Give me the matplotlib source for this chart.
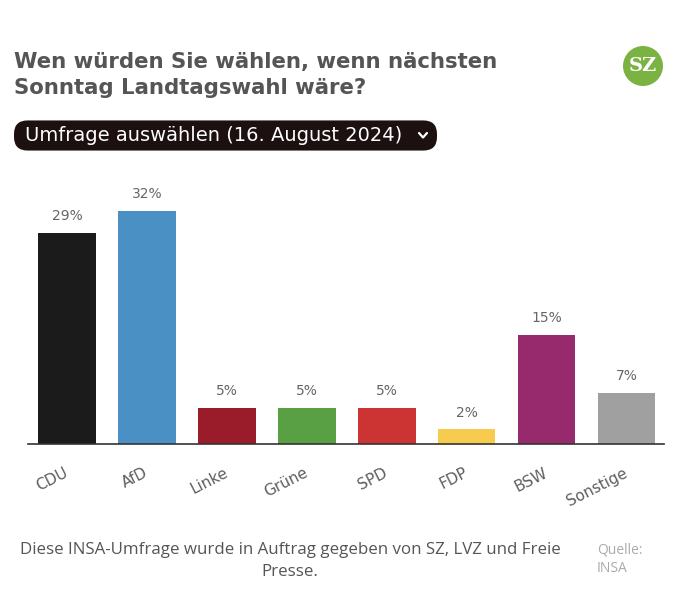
import matplotlib
matplotlib.use("Agg")
import matplotlib.pyplot as plt
from matplotlib.patches import FancyBboxPatch, Ellipse
import numpy as np

# poll values (INSA, 16. August 2024)
parties = ['CDU', 'AfD', 'Linke', 'Grüne', 'SPD', 'FDP', 'BSW', 'Sonstige']
values = [29, 32, 5, 5, 5, 2, 15, 7]
colors = ['#1b1b1b', '#4a90c4', '#9a1c2b', '#58a043', '#cc3333', '#f7cb4d', '#962a6c', '#a0a0a0']

title = "Wen würden Sie wählen, wenn nächsten\nSonntag Landtagswahl wäre?"
dropdown = "Umfrage auswählen (16. August 2024)"
footer = "Diese INSA-Umfrage wurde in Auftrag gegeben von SZ, LVZ und Freie\nPresse."
source = "Quelle:\nINSA"

W, H = 680, 602
fig = plt.figure(figsize=(W / 100, H / 100), dpi=100)
fig.patch.set_facecolor('white')


def fx(px):
    return px / W


def fy(py):
    return 1 - py / H


ax = fig.add_axes([fx(28), fy(444), fx(664) - fx(28), fy(211) - fy(444)])
x = np.arange(len(parties))
bars = ax.bar(x, values, width=0.72, color=colors, zorder=2)
ax.set_xlim(-0.49, 7.47)
ax.set_ylim(0, 32)
for b, v in zip(bars, values):
    ax.annotate(f"{v}%", (b.get_x() + b.get_width() / 2, v), xytext=(0, 7),
                textcoords='offset points', ha='center', va='bottom',
                fontsize=10, color='#666666', family='DejaVu Sans')

for s in ['top', 'right', 'left']:
    ax.spines[s].set_visible(False)
ax.spines['bottom'].set_color('#333333')
ax.spines['bottom'].set_linewidth(1.2)
ax.set_yticks([])
ax.set_xticks(x)
ax.set_xticklabels(parties, rotation=27, ha='right', va='center',
                   rotation_mode='anchor', fontsize=11, color='#5e5e5e',
                   family='DejaVu Sans')
ax.tick_params(axis='x', length=0, pad=20)

# title
fig.text(fx(14), fy(52), title, ha='left', va='top', fontsize=15.3,
         fontweight='bold', color='#555555', family='DejaVu Sans',
         linespacing=1.4)

# dropdown pill
pill = FancyBboxPatch((fx(14) + 0.02, fy(149) + 0.02), fx(437 - 14) - 0.04, (149 - 122) / H - 0.04,
                      boxstyle="round,pad=0.02,rounding_size=0.02",
                      transform=fig.transFigure, facecolor='#1c1010',
                      edgecolor='none', mutation_aspect=W / H)
fig.add_artist(pill)
fig.text(fx(25), fy(135.5), dropdown, ha='left', va='center', fontsize=14,
         color='white', family='DejaVu Sans')
fig.add_artist(plt.Line2D([fx(419), fx(423), fx(427)], [fy(133), fy(137.5), fy(133)],
                          transform=fig.transFigure, color='white', lw=1.6,
                          solid_capstyle='round', solid_joinstyle='round'))

# SZ logo
fig.add_artist(Ellipse((fx(643), fy(66)), 40 / W, 40 / H, transform=fig.transFigure,
                       facecolor='#7ab342', edgecolor='none'))
fig.text(fx(643), fy(66), "SZ", ha='center', va='center', fontsize=14,
         fontweight='bold', color='white', family='DejaVu Serif')

# footer
fig.text(fx(290), fy(561), footer, ha='center', va='center', fontsize=12.2,
         color='#555555', family='Open Sans', linespacing=1.45)
fig.text(fx(597), fy(559), source, ha='left', va='center', fontsize=10,
         color='#aaaaaa', family='Open Sans', linespacing=1.3)

fig.savefig('out.png', dpi=100, facecolor='white')
